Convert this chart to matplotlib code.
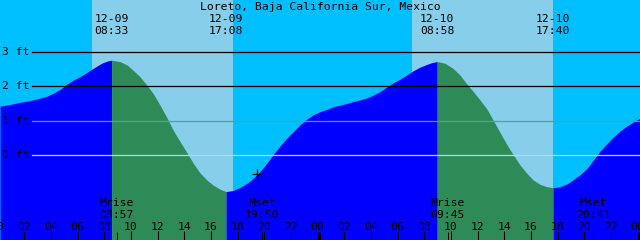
"""Tide graph for Loreto, Baja California Sur, Mexico (two days)"""

import matplotlib.pyplot as plt
import numpy as np

plt.rcParams['font.family'] = ['DejaVu Sans Mono']

title = 'Loreto, Baja California Sur, Mexico'

# tide height (ft) against hours since 12-09 00:00
tide_hours = [0.18, 0.93, 1.68, 2.43, 3.18, 3.71, 4.16, 4.68, 5.21, 5.66,
              6.18, 6.71, 7.16, 7.53, 7.91, 8.28, 8.55, 9.18, 9.71, 10.16,
              10.68, 11.21, 11.66, 12.18, 12.71, 13.16, 13.68, 14.21, 14.66, 15.18,
              15.71, 16.16, 16.68, 17.13, 17.66, 18.18, 18.71, 19.16, 19.68, 20.21,
              20.66, 21.18, 21.71, 22.16, 22.68, 23.21, 23.66, 24.18, 24.71, 25.16,
              25.68, 26.21, 26.66, 27.18, 27.71, 28.16, 28.68, 29.21, 29.66, 30.18,
              30.71, 31.16, 31.68, 32.21, 32.58, 32.97, 33.56, 34.16, 34.68, 35.21,
              35.66, 36.18, 36.71, 37.16, 37.68, 38.21, 38.66, 39.18, 39.71, 40.16,
              40.68, 41.21, 41.67, 42.18, 42.71, 43.16, 43.68, 44.21, 44.66, 45.18,
              45.71, 46.16, 46.68, 47.21, 47.66, 48.18]
tide_ft = [1.42, 1.47, 1.53, 1.58, 1.65, 1.71, 1.79, 1.90, 2.06, 2.17,
           2.27, 2.40, 2.51, 2.60, 2.68, 2.73, 2.75, 2.71, 2.61, 2.46,
           2.27, 2.02, 1.79, 1.45, 1.08, 0.73, 0.40, 0.07, -0.22, -0.51,
           -0.72, -0.86, -0.98, -1.05, -1.02, -0.93, -0.81, -0.67, -0.47, -0.22,
           0.02, 0.27, 0.50, 0.68, 0.88, 1.05, 1.17, 1.26, 1.33, 1.40,
           1.45, 1.50, 1.55, 1.60, 1.66, 1.74, 1.84, 1.98, 2.09, 2.20,
           2.33, 2.44, 2.55, 2.63, 2.68, 2.71, 2.66, 2.51, 2.32, 2.05,
           1.85, 1.60, 1.33, 1.02, 0.66, 0.30, 0.02, -0.28, -0.53, -0.71,
           -0.84, -0.91, -0.94, -0.91, -0.83, -0.71, -0.56, -0.38, -0.15, 0.12,
           0.34, 0.52, 0.70, 0.85, 0.96, 1.07]

# high / low tide labels
event_hours = [8.55, 17.13, 32.97, 41.67]
event_dates = ['12-09', '12-09', '12-10', '12-10']
event_times = ['08:33', '17:08', '08:58', '17:40']

# daylight
sunrise_hours = [7.08, 31.08]
sunset_hours = [17.66, 41.66]

# moon rise / set
moon_hours = [8.95, 19.83, 33.75, 44.68]
moon_names = ['Mrise', 'Mset', 'Mrise', 'Mset']
moon_times = ['08:57', '19:50', '09:45', '20:41']

level_ft = [3, 2, 1, 0]
level_colors = ['black', 'black', '#4fa58f', '#a8dcf0']

now_hour, now_ft = 19.48, -0.54

X0, X1 = 0.18, 48.18
Y0, Y1 = -2.45, 4.49
H = 240.0  # figure height in pixels


def ypx(p):
    """pixel row from the top -> axes fraction"""
    return 1 - p / H


fig = plt.figure(figsize=(6.4, 2.4), dpi=100)
ax = fig.add_axes([0, 0, 1, 1])
ax.set_xlim(X0, X1)
ax.set_ylim(Y0, Y1)
ax.axis('off')
ax.axvspan(X0, X1, color='#00bfff', zorder=0, lw=0)
for sr, ss in zip(sunrise_hours, sunset_hours):
    ax.axvspan(sr, ss, color='#87ceeb', zorder=0.5, lw=0)

# fill rising (flood) blue, falling (ebb) green
t = np.array(tide_hours)
h = np.array(tide_ft)
falling = np.diff(h) < 0
start = 0
for i in range(1, len(falling) + 1):
    if i == len(falling) or falling[i] != falling[start]:
        seg = slice(start, i + 1)
        ax.fill_between(t[seg], Y0, h[seg], color='#2e8b57' if falling[start] else '#0000ff',
                        lw=0, zorder=1)
        start = i

xt = ax.get_xaxis_transform()
for lv, c in zip(level_ft, level_colors):
    ax.axhline(lv, xmin=32 / 640, xmax=1, color=c, lw=0.9, zorder=2)
    ax.text(2 / 640, lv, f'{lv} ft', transform=ax.get_yaxis_transform(), fontsize=8.2,
            ha='left', va='center', zorder=3)

fig.text(0.5, ypx(10), title, fontsize=8.2, ha='center', va='baseline')
for eh, d, tm in zip(event_hours, event_dates, event_times):
    ax.text(eh, ypx(22), d, transform=xt, fontsize=8.2, ha='center', va='baseline')
    ax.text(eh, ypx(34), tm, transform=xt, fontsize=8.2, ha='center', va='baseline')

for mh, nm, tm in zip(moon_hours, moon_names, moon_times):
    ax.text(mh, ypx(206), nm, transform=xt, fontsize=8.2, ha='center', va='baseline', zorder=3)
    ax.text(mh, ypx(217.5), tm, transform=xt, fontsize=8.2, ha='center', va='baseline', zorder=3)
    ax.vlines(mh, ypx(240), ypx(232), transform=xt, color='black', lw=0.7, zorder=3)

hours = np.arange(0, 49, 2)
for hr in hours:
    ax.text(hr, ypx(230), f'{hr % 24:02d}', transform=xt, fontsize=8.2,
            ha='center', va='baseline', zorder=3)
    if hr % 24 == 0:
        ax.vlines(hr + 0.07, ypx(240), ypx(232), transform=xt, color='black', lw=2.2, zorder=3)
    else:
        ax.vlines(hr, ypx(240), ypx(231), transform=xt, color='black', lw=0.8, zorder=3)

ax.plot([now_hour], [now_ft], marker='+', color='black', markersize=6.5, mew=0.9, zorder=4)

fig.savefig('out.png', dpi=100)
